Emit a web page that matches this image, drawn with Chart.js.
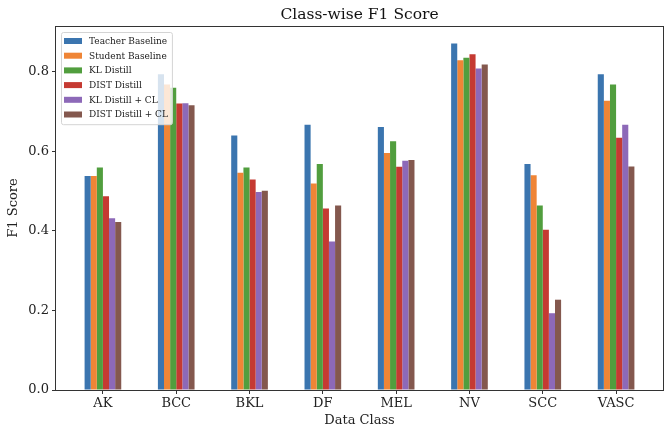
<!DOCTYPE html>
<html>
<head>
<meta charset="utf-8">
<script src="https://cdn.jsdelivr.net/npm/chart.js@4/dist/chart.umd.min.js"></script>
<style>
  html, body { margin: 0; padding: 0; background: #fff; }
  #wrap { width: 668px; height: 428px; }
</style>
</head>
<body>
<div id="wrap"><canvas id="myChart" width="668" height="428"></canvas></div>
<script>
// classes on the x axis
const classes = ['AK', 'BCC', 'BKL', 'DF', 'MEL', 'NV', 'SCC', 'VASC'];

// F1 per class
const teacherBaseline = [0.538, 0.794, 0.640, 0.667, 0.661, 0.871, 0.568, 0.794];
const studentBaseline = [0.538, 0.768, 0.546, 0.519, 0.596, 0.829, 0.540, 0.727];
const klDistill       = [0.559, 0.760, 0.559, 0.568, 0.625, 0.835, 0.464, 0.768];
const distDistill     = [0.487, 0.720, 0.529, 0.456, 0.561, 0.844, 0.403, 0.634];
const klDistillCL     = [0.432, 0.721, 0.498, 0.373, 0.576, 0.808, 0.193, 0.667];
const distDistillCL   = [0.422, 0.716, 0.501, 0.464, 0.578, 0.818, 0.227, 0.562];

const seriesNames = ['Teacher Baseline', 'Student Baseline', 'KL Distill', 'DIST Distill', 'KL Distill + CL', 'DIST Distill + CL'];
const seriesValues = [teacherBaseline, studentBaseline, klDistill, distDistill, klDistillCL, distDistillCL];
const colors = ['#3b75af', '#ef8536', '#519e3e', '#c53a32', '#8d69b8', '#84584e'];

const yTicks = [0, 0.2, 0.4, 0.6, 0.8];

const serif = "'DejaVu Serif', serif";

// matplotlib-like frame, title and inset legend
const mplBits = {
    id: 'mplBits',
    afterDraw(chart) {
        const ctx = chart.ctx;
        const a = chart.chartArea;
        ctx.save();
        // frame
        ctx.strokeStyle = '#333';
        ctx.lineWidth = 1;
        ctx.strokeRect(Math.round(a.left) - 0.5, Math.round(a.top) + 0.5,
            Math.round(a.right - a.left) + 1, Math.round(a.bottom - a.top));
        // title
        ctx.fillStyle = '#111';
        ctx.font = '15.5px ' + serif;
        ctx.textAlign = 'center';
        ctx.textBaseline = 'middle';
        ctx.fillText('Class-wise F1 Score', (a.left + a.right) / 2, 15);
        // legend box
        const x0 = a.left + 5, y0 = a.top + 6;
        const rowH = 14.7;
        ctx.font = '9px ' + serif;
        let w = 0;
        chart.data.datasets.forEach(ds => { w = Math.max(w, ctx.measureText(ds.label).width); });
        const boxW = 7 + 18 + 5 + w + 2;
        const boxH = rowH * chart.data.datasets.length + 4;
        ctx.fillStyle = 'rgba(255,255,255,0.8)';
        ctx.strokeStyle = '#d4d4d4';
        ctx.beginPath();
        ctx.roundRect(x0 + 0.5, y0 + 0.5, boxW, boxH, 2);
        ctx.fill();
        ctx.stroke();
        ctx.textAlign = 'left';
        chart.data.datasets.forEach((ds, i) => {
            const cy = y0 + 9 + i * rowH;
            ctx.fillStyle = ds.backgroundColor;
            ctx.fillRect(x0 + 3, cy - 3, 18, 6);
            ctx.fillStyle = '#222';
            ctx.fillText(ds.label, x0 + 28, cy + 0.5);
        });
        ctx.restore();
    }
};

const ctx = document.getElementById('myChart').getContext('2d');
const f1Chart = new Chart(ctx, {
    type: 'bar',
    data: {
        datasets: seriesNames.map((name, k) => ({
            label: name,
            backgroundColor: colors[k],
            borderWidth: 0,
            data: seriesValues[k].map((v, i) => ({ x: i, y: v }))
        }))
    },
    options: {
        responsive: false,
        animation: false,
        events: [],
        categoryPercentage: 0.5,
        barPercentage: 1.0,
        layout: { padding: { top: 26, right: 5, left: 0, bottom: 0 } },
        plugins: {
            legend: { display: false },
            title: { display: false },
            tooltip: { enabled: false }
        },
        scales: {
            x: {
                type: 'linear',
                min: -0.64,
                max: 7.64,
                offset: false,
                afterFit(scale) { scale.height = 38; },
                afterBuildTicks(scale) { scale.ticks = classes.map((c, i) => ({ value: i })); },
                grid: { offset: false, drawOnChartArea: false, drawTicks: true, tickLength: 4, color: '#333' },
                border: { display: false },
                ticks: {
                    autoSkip: false,
                    maxRotation: 0,
                    padding: 2,
                    color: '#222',
                    font: { family: serif, size: 13 },
                    callback: v => classes[v]
                },
                title: {
                    display: true,
                    text: 'Data Class',
                    color: '#222',
                    font: { family: serif, size: 13 },
                    padding: { top: 0, bottom: 0 }
                }
            },
            y: {
                min: 0,
                max: 0.915,
                afterFit(scale) { scale.width = 56; },
                afterBuildTicks(scale) { scale.ticks = yTicks.map(v => ({ value: v })); },
                grid: { drawOnChartArea: false, drawTicks: true, tickLength: 4, color: '#333' },
                border: { display: false },
                ticks: {
                    padding: 3,
                    color: '#222',
                    font: { family: serif, size: 13 },
                    callback: v => v.toFixed(1)
                },
                title: {
                    display: true,
                    text: 'F1 Score',
                    color: '#222',
                    font: { family: serif, size: 13 },
                    padding: { top: 6, bottom: 2 }
                }
            }
        }
    },
    plugins: [mplBits]
});
</script>
</body>
</html>
